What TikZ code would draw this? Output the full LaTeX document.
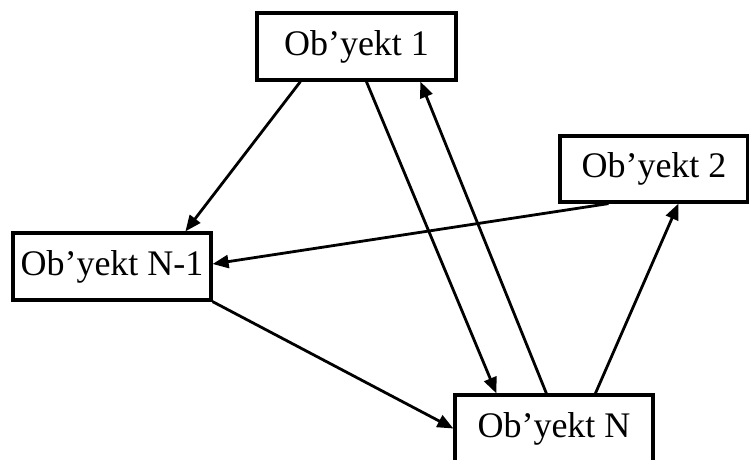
\documentclass[tikz,border=0pt]{standalone}
\usepackage{fontspec}
\setmainfont{Liberation Serif}
\usetikzlibrary{arrows.meta}
\begin{document}
\begin{tikzpicture}[x=1pt,y=-1pt,
  obj/.style={draw,line width=3.2pt,inner sep=0pt,minimum height=67pt,font=\fontsize{36}{40}\selectfont},
  conn/.style={line width=2.8pt,-{Triangle[length=16pt,width=13pt]}}]
\clip (0,0) rectangle (749,459);
\fill[white] (0,0) rectangle (749,459);
\node[obj,minimum width=199pt] (o1) at (356.5,46.5) {Ob’yekt 1};
\node[obj,minimum width=188pt,minimum height=66pt] (o2) at (654,169) {Ob’yekt 2};
\node[obj,minimum width=198pt] (on1) at (112,266.5) {Ob’yekt N-1};
\node[obj,minimum width=198pt] (on) at (554,428.5) {Ob’yekt N};
\draw[conn] ([xshift=45pt]o1.south west) -- ([xshift=174pt]on1.north west);
\draw[conn] ([xshift=111pt]o1.south west) -- ([xshift=43pt]on.north west);
\draw[conn] ([xshift=93pt]on.north west) -- ([xshift=165pt]o1.south west);
\draw[conn] ([xshift=50pt]o2.south west) -- ([yshift=2.5pt]on1.east);
\draw[conn] (on1.south east) -- (on.west);
\draw[conn] ([xshift=142pt]on.north west) -- ([xshift=120pt]o2.south west);
\end{tikzpicture}
\end{document}
